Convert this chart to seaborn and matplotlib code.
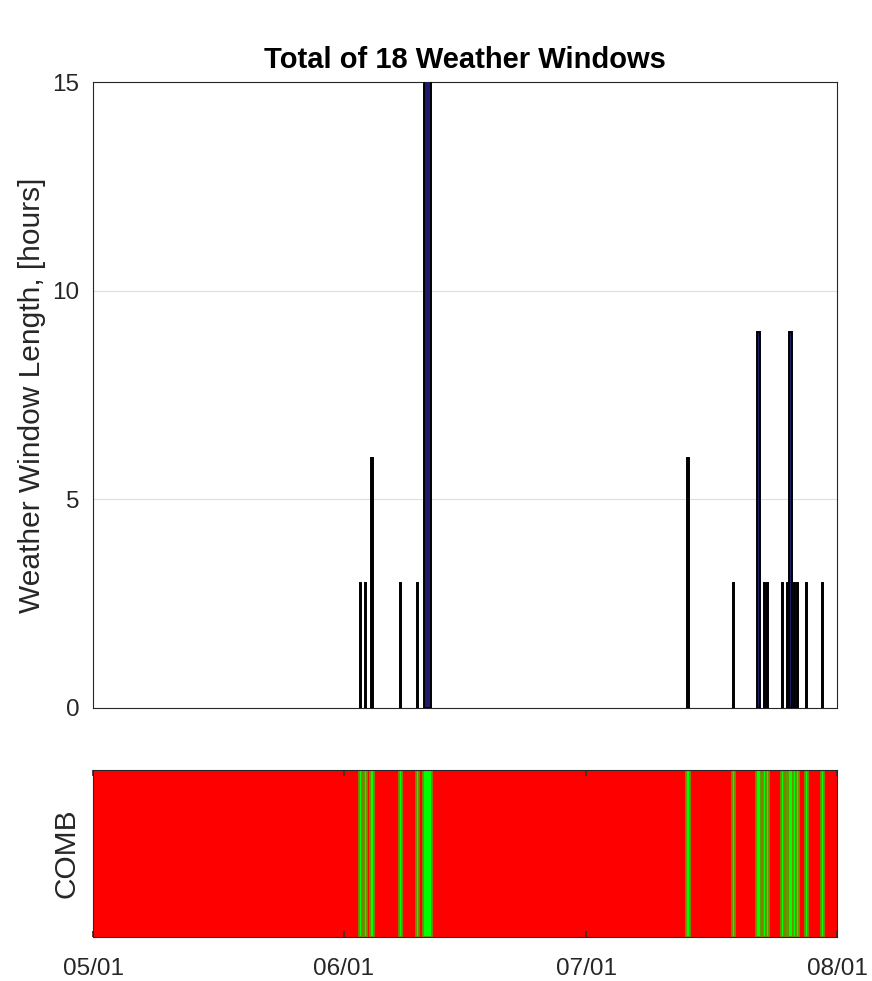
import numpy as np
import pandas as pd
import matplotlib
matplotlib.use("Agg")
import matplotlib.pyplot as plt
import matplotlib.dates as mdates
import seaborn as sns

# ---- data ----
window_mid = [
    "2015-06-03 02:00", "2015-06-03 18:00", "2015-06-04 11:00",
    "2015-06-08 01:00", "2015-06-10 02:00", "2015-06-11 08:00",
    "2015-07-13 14:00", "2015-07-19 06:00", "2015-07-22 06:00",
    "2015-07-23 02:00", "2015-07-23 11:00", "2015-07-25 05:00",
    "2015-07-25 20:00", "2015-07-26 07:00", "2015-07-26 19:00",
    "2015-07-27 04:00", "2015-07-28 04:00", "2015-07-30 04:00",
]
window_hours = [3, 3, 6, 3, 3, 21,
                6, 3, 9, 3, 3, 3, 3, 9, 3, 3, 3, 3]
month_ticks = ["2015-05-01", "2015-06-01", "2015-07-01", "2015-08-01"]
tick_labels = ["05/01", "06/01", "07/01", "08/01"]
y_ticks = [0, 5, 10, 15]
title_text = "Total of 18 Weather Windows"
ylabel_main = "Weather Window Length, [hours]"
ylabel_strip = "COMB"

df = pd.DataFrame({"mid": pd.to_datetime(window_mid), "hours": window_hours})
df["width"] = df["hours"] / 24.0
# strip spans drawn a little wider than the window itself (image-style smear)
df["start"] = df["mid"] - pd.to_timedelta(df["hours"] / 2 + 3, unit="h")
df["end"] = df["mid"] + pd.to_timedelta(df["hours"] / 2 + 3, unit="h")

sns.set_theme(style="white")
plt.rcParams["font.family"] = ["Liberation Sans", "DejaVu Sans"]
txt = "#262626"

fig = plt.figure(figsize=(8.72, 9.81), dpi=100)
ax = fig.add_axes([0.1067, 0.2783, 0.8532, 0.6381])
ax2 = fig.add_axes([0.1067, 0.0448, 0.8532, 0.1703])

xmin = pd.Timestamp(month_ticks[0])
xmax = pd.Timestamp(month_ticks[-1])
tick_dates = pd.to_datetime(month_ticks)

# main bars
ax.bar(df["mid"], df["hours"], width=df["width"], color="#1c1c6a",
       edgecolor="black", linewidth=1.4, zorder=3)
ax.set_xlim(xmin, xmax)
ax.set_ylim(0, 15)
ax.set_yticks(y_ticks)
ax.set_xticks(tick_dates)
ax.set_xticklabels([])
ax.yaxis.grid(True, color="#262626", alpha=0.15, linewidth=0.8)
ax.xaxis.grid(False)
ax.tick_params(axis="both", direction="in", length=0, color=txt,
               labelsize=17.5, labelcolor=txt, pad=10)
ax.set_ylabel(ylabel_main, fontsize=21.5, color=txt, labelpad=4)
ax.set_title(title_text, fontsize=21, fontweight="bold", color="black", pad=10)
for s in ax.spines.values():
    s.set_color(txt)
    s.set_linewidth(0.8)
    s.set_visible(True)

# strip
ax2.set_facecolor("#ff0000")
for _, r in df.iterrows():
    ax2.axvspan(r["start"], r["end"], facecolor="#00ff00",
                edgecolor="#6f8f00", linewidth=1.3, zorder=2)
ax2.set_xlim(xmin, xmax)
ax2.set_ylim(0, 1)
ax2.set_yticks([])
ax2.set_xticks(tick_dates)
ax2.set_xticklabels(tick_labels)
ax2.tick_params(axis="x", direction="in", length=4, color="#333333",
                labelsize=17.5, labelcolor=txt, top=True, bottom=True, pad=15)
ax2.set_ylabel(ylabel_strip, fontsize=21.5, color=txt, labelpad=9)
for s in ax2.spines.values():
    s.set_color(txt)
    s.set_linewidth(0.8)
    s.set_visible(True)

fig.savefig("out.png", dpi=100)
